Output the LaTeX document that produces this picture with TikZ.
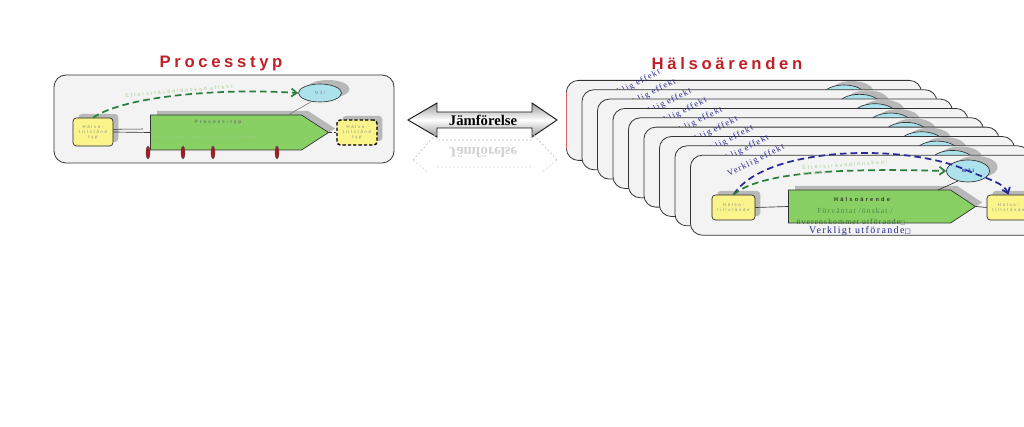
\documentclass[tikz,border=0pt]{standalone}
\usepackage{fontspec}
\setmainfont{Liberation Serif}
\newfontfamily\titlefont[LetterSpace=22]{Liberation Sans}
\newfontfamily\tinysans[LetterSpace=40]{Liberation Sans}
\newfontfamily\spserif[LetterSpace=14]{Liberation Serif}
\newfontfamily\symfont{DejaVu Sans}
\usetikzlibrary{shapes.geometric,shapes.symbols,arrows.meta,shadows}
\definecolor{ttlred}{RGB}{192,32,40}
\definecolor{panelbg}{RGB}{243,243,243}
\definecolor{boxyel}{RGB}{250,244,138}
\definecolor{procgreen}{RGB}{136,208,100}
\definecolor{goalteal}{RGB}{172,226,236}
\definecolor{effgreen}{RGB}{40,128,60}
\definecolor{palegreen}{RGB}{165,205,145}
\definecolor{txtgreen}{RGB}{70,140,70}
\definecolor{effblue}{RGB}{40,40,150}
\definecolor{dotred}{RGB}{168,24,32}
\begin{document}
\begin{tikzpicture}[x=0.75pt,y=-0.75pt,
  panel/.style={draw=black!80,line width=0.6pt,fill=panelbg,rounded corners=9pt,inner sep=0pt},
  ybox/.style={draw=black!85,line width=0.5pt,fill=boxyel,rounded corners=2.5pt,inner sep=0pt,
    drop shadow={shadow xshift=4pt,shadow yshift=3pt,fill=black!28,opacity=1}},
  goal/.style={ellipse,draw=black!80,line width=0.5pt,fill=goalteal,inner sep=0pt,
    drop shadow={shadow xshift=6pt,shadow yshift=3pt,fill=black!28,opacity=1}},
  proc/.style={signal,signal to=east,draw=black!80,line width=0.5pt,fill=procgreen,inner sep=0pt,
    drop shadow={shadow xshift=5pt,shadow yshift=3pt,fill=black!28,opacity=1}},
  gdash/.style={effgreen,line width=1.3pt,dash pattern=on 5pt off 3pt,-{Straight Barb[length=4pt,width=6pt]}},
  bdash/.style={effblue,line width=1.3pt,dash pattern=on 5pt off 3pt,-{Straight Barb[length=4pt,width=6pt]}},
  marker/.style={ellipse,draw=black!70,line width=0.3pt,fill=dotred,minimum width=3pt,minimum height=9.75pt,inner sep=0pt},
  tinytxt/.style={font=\tinysans\fontsize{3.2}{3.8}\selectfont,text=black!45,align=center,inner sep=0pt},
  ttl/.style={font=\titlefont\fontsize{12.5}{14}\selectfont\bfseries,text=ttlred},
  vtxt/.style={font=\spserif\fontsize{6.5}{7}\selectfont,text=effblue,inner sep=0pt},
  conn/.style={draw=black!80,line width=0.5pt}
]
\useasboundingbox (0,0) rectangle (1024,427);
\fill[white] (0,0) rectangle (1024,427);
\clip (0,0) rectangle (1024,427);

% ---------- left: Processtyp ----------
\node[ttl] (t1) at (221,64) {Processtyp};
\node[panel,minimum width=255pt,minimum height=66pt] (lp) at (224,119) {};
\node[ybox,minimum width=30pt,minimum height=21pt] (ly) at (93,132) {};
\node[tinytxt] at (ly) {Hälso-\\tillstånd\\typ};
\node[proc,minimum width=133.5pt,minimum height=26.25pt,signal pointer angle=66] (lg) at (226,132.5) {};
\node[goal,minimum width=32.25pt,minimum height=13.5pt] (lm) at (320,93) {};
\node[tinytxt] at (lm) {Mål};
\node[ybox,draw=black,line width=1.1pt,dash pattern=on 2.5pt off 1.5pt,minimum width=30pt,minimum height=18.75pt] (lr) at (357,132.5) {};
\node[tinytxt] at (lr) {Hälso-\\tillstånd\\typ};
\coordinate (lgc) at (288,115);
\coordinate (lgin) at (143,129);
\draw[conn] (ly.east) -- (lg.west);
\draw[conn,line width=0.4pt] ([yshift=2pt]ly.east) -- (lgin);
\draw[conn,black!50] (lm.225) -- (lgc);
\draw[conn,line width=0.8pt,dash pattern=on 2pt off 1.5pt] (lg.east) -- (lr.west);
\node[tinytxt,text=black!55,font=\tinysans\fontsize{3.6}{4}\selectfont\bfseries] (lgt) at (218,122) {Process-typ};
\node[tinytxt,text=palegreen!80!procgreen,font=\tinysans\fontsize{3.6}{4}\selectfont] (lgs) at (204,137) {Förväntat/önskat utförande};
\foreach \mx/\mn in {148/m1,183/m2,213/m3,277/m4}
  \node[marker] (\mn) at (\mx,152.5) {};
\draw[gdash] (ly.north) .. controls (125,96) and (220,88) .. (lm.west);
\node[tinytxt,text=palegreen,rotate=5,font=\tinysans\fontsize{3.8}{4}\selectfont] (leff) at (179,91) {Eftersträvad/önskad effekt};

% ---------- middle: Jämförelse ----------
\draw[black!90,line width=0.7pt,top color=black!40,bottom color=black!40,middle color=white]
  (408,120) -- (437,103) -- (437,112) -- (532,112) -- (532,103) -- (557,120)
  -- (532,137) -- (532,128) -- (437,128) -- (437,137) -- cycle;
\node[font=\fontsize{11}{12}\selectfont\bfseries,inner sep=0pt] (cmp) at (483,120.5) {Jämförelse};
\draw[black!25,line width=0.5pt,dash pattern=on 1.5pt off 1.5pt]
  (413,160) -- (437,133) -- (437,140) -- (532,140) -- (532,133) -- (557,160);
\draw[black!15,line width=0.5pt,dash pattern=on 1.5pt off 1.5pt]
  (413,160) -- (428,172) (557,160) -- (542,172) (437,167) -- (532,167);
\node[font=\fontsize{11}{12}\selectfont\bfseries,text=black!18,inner sep=0pt,yscale=-1] (cmpr) at (483,153) {Jämförelse};

% ---------- right: Hälsoärenden ----------
\node[ttl] (t2) at (727,64) {Hälsoärenden};
\foreach \k in {0,...,7}{
  \pgfmathsetmacro\cl{566+15.5*\k}
  \pgfmathsetmacro\ct{80+9.35*\k}
  \node[panel,minimum width=266.25pt,minimum height=60pt,anchor=north west] (c\k) at (\cl,\ct) {};
  \node[goal,minimum width=32.25pt,minimum height=16.5pt] (e\k) at (\cl+278,\ct+16) {};
  \node[vtxt,rotate=27] (v\k) at (\cl+66,\ct+6) {Verklig effekt};
}
\draw[ttlred!70,line width=0.6pt] ([yshift=-9pt]c0.north west) -- ([yshift=9pt]c0.south west);
% front card
\node[panel,minimum width=266.25pt,minimum height=60pt,anchor=north west] (c8) at (690,154.8) {};
\node[ybox,minimum width=32.25pt,minimum height=18.75pt] (fly) at (733.5,207.5) {};
\node[tinytxt] at (fly) {Hälso-\\tillstånde};
\node[proc,minimum width=140.25pt,minimum height=24.75pt,signal pointer angle=67] (fg) at (869.5,206.5) {};
\node[goal,minimum width=32.25pt,minimum height=16.5pt] (fm) at (968,171) {};
\node[tinytxt,text=effblue,font=\tinysans\fontsize{3.6}{4}\selectfont\bfseries] at (fm) {Mål};
\node[ybox,minimum width=32.25pt,minimum height=18.75pt] (fr) at (1008.5,207.5) {};
\node[tinytxt] at (fr) {Hälso-\\tillstånde};
\coordinate (fgc) at (938,190);
\draw[conn] (fly.east) -- (fg.west);
\draw[conn] (fg.east) -- (fr.west);
\draw[conn] (fm.225) -- (fgc);
\draw[bdash] (fly.north) .. controls (765,146) and (905,143) .. (966,170)
  .. controls (990,180) and (1004,183) .. (fr.north);
\draw[gdash] (fly.north) .. controls (760,172) and (840,168) .. (fm.west);
\node[tinytxt,text=palegreen,rotate=4,align=left,font=\tinysans\fontsize{3.8}{4.5}\selectfont] (feff) at (845,168) {Eftersträvad/önskad/\\effekt};
\node[vtxt,rotate=27] (v8) at (756,160.8) {Verklig effekt};
\node[tinytxt,text=black!80,font=\tinysans\fontsize{4.2}{5}\selectfont\bfseries] (fgt) at (862,200) {Hälsoärende};
\node[font=\spserif\fontsize{5.8}{6}\selectfont,text=txtgreen,inner sep=0pt] (fgs1) at (855,211) {Förväntat /önskat /};
\node[font=\spserif\fontsize{5.8}{6}\selectfont,text=txtgreen!70!black,inner sep=0pt] (fgs2) at (851,222) {överenskommet utförande{\symfont\fontsize{4}{5}\selectfont □}};
\node[font=\spserif\fontsize{7.5}{8}\selectfont,text=effblue,inner sep=0pt] (fvu) at (860,231) {Verkligt utförande{\symfont\fontsize{5}{6}\selectfont □}};
\end{tikzpicture}
\end{document}
